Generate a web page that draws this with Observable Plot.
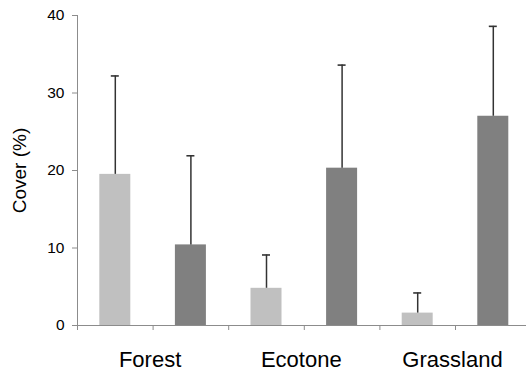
<!DOCTYPE html>
<html>
<head>
<meta charset="utf-8">
<script src="https://cdn.jsdelivr.net/npm/d3@7"></script>
<script src="https://cdn.jsdelivr.net/npm/@observablehq/plot@0.6"></script>
<style>
  html, body { margin: 0; padding: 0; background: #fff; overflow: hidden; }
  svg { display: block; }
</style>
</head>
<body>
<div id="chart"></div>
<script>
const habitats = ["Forest", "Ecotone", "Grassland"];
const seriesNames = ["light", "dark"];
const seriesColors = ["#c0c0c0", "#808080"];
const lightMeans = [19.5, 4.8, 1.6];
const lightUpper = [32.2, 9.1, 4.2];
const darkMeans = [10.4, 20.3, 27.0];
const darkUpper = [21.9, 33.6, 38.6];
const yTicks = [0, 10, 20, 30, 40];

const rows = [];
habitats.forEach((h, i) => {
  rows.push({habitat: h, series: "light", pos: 2 * i, mean: lightMeans[i], upper: lightUpper[i]});
  rows.push({habitat: h, series: "dark", pos: 2 * i + 1, mean: darkMeans[i], upper: darkUpper[i]});
});
const boundaries = d3.range(0, rows.length + 1);
const labelPos = habitats.map((h, i) => 2 * i + 1);

const font = "'Liberation Sans', Arial, sans-serif";

const chart = Plot.plot({
  width: 526,
  height: 374,
  marginTop: 15,
  marginBottom: 49,
  marginLeft: 77,
  marginRight: 0,
  style: {fontFamily: font, fontSize: "15.5px", color: "#000", background: "#fff"},
  x: {domain: [0, rows.length], range: [77, 77 + 75.6 * rows.length]},
  y: {domain: [0, 40], range: [325, 15]},
  color: {domain: seriesNames, range: seriesColors},
  marks: [
    Plot.rectY(rows, {x1: "pos", x2: d => d.pos + 1, y1: 0, y2: "mean", fill: "series", insetLeft: 22.3, insetRight: 22.3}),
    Plot.ruleX(rows, {x: d => d.pos + 0.5, y1: "mean", y2: "upper", stroke: "#333", strokeWidth: 1.5}),
    Plot.ruleY(rows, {x1: "pos", x2: d => d.pos + 1, y: "upper", stroke: "#333", strokeWidth: 1.6, insetLeft: 33.8, insetRight: 33.8}),
    Plot.ruleX([0], {y1: 0, y2: 40, stroke: "#8c8c8c"}),
    Plot.ruleY([0], {stroke: "#8c8c8c"}),
    Plot.axisY({ticks: yTicks, tickSize: 5, tickPadding: 8, stroke: "#8c8c8c", strokeOpacity: 1, label: "Cover (%)", labelAnchor: "center", labelOffset: 65, labelArrow: "none"}),
    Plot.axisX({ticks: boundaries, tickSize: 5, tickFormat: () => "", stroke: "#8c8c8c", strokeOpacity: 1, label: null}),
    Plot.axisX({ticks: labelPos, tickSize: 0, tickPadding: 26, tickFormat: p => habitats[(p - 1) / 2], fontSize: 22, dx: -3, label: null})
  ]
});
document.getElementById("chart").appendChild(chart);
d3.select(chart).selectAll("[aria-label='y-axis label'] text").style("font-size", "19px");
</script>
</body>
</html>
